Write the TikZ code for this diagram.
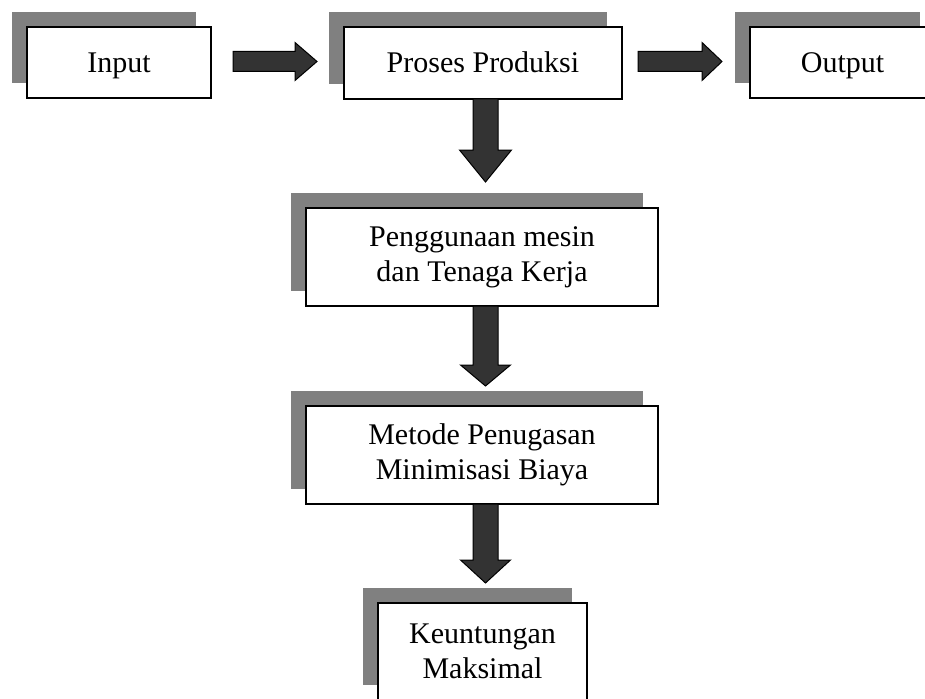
\documentclass[tikz,border=0pt]{standalone}
\usepackage{fontspec}
\setmainfont{Liberation Serif}
\usetikzlibrary{shadows,calc}
\definecolor{shadowgray}{RGB}{128,128,128}
\definecolor{arrowfill}{RGB}{51,51,51}
\tikzset{
  box/.style={draw=black, line width=1.5pt, fill=white, inner sep=0pt, outer sep=0pt,
    align=center, font=\fontsize{30}{35}\selectfont,
    drop shadow={shadow xshift=-15pt, shadow yshift=15pt, opacity=1, fill=shadowgray, draw=none}},
  oneline/.style={text height=23pt, text depth=3pt},
  blockarrow/.style={draw=black, line width=1pt, fill=arrowfill, line join=miter}
}
% horizontal block arrow: start, tip, head length, shaft half, head half
\newcommand{\harr}[5]{%
  \draw[blockarrow] let \p1=(#1), \p2=(#2) in
    (\x1,{\y1+#4}) -- ({\x2-#3},{\y1+#4}) -- ({\x2-#3},{\y1+#5}) -- (\x2,\y1)
    -- ({\x2-#3},{\y1-#5}) -- ({\x2-#3},{\y1-#4}) -- (\x1,{\y1-#4}) -- cycle;}
% downward block arrow
\newcommand{\varr}[5]{%
  \draw[blockarrow] let \p1=(#1), \p2=(#2) in
    ({\x1-#4},\y1) -- ({\x1-#4},{\y2+#3}) -- ({\x1-#5},{\y2+#3}) -- (\x1,\y2)
    -- ({\x1+#5},{\y2+#3}) -- ({\x1+#4},{\y2+#3}) -- ({\x1+#4},\y1) -- cycle;}
\begin{document}
\begin{tikzpicture}[x=1pt,y=-1pt]
\useasboundingbox (0,0) rectangle (925,698);
\clip (0,0) rectangle (925,698);

\node[box, oneline, minimum width=184pt, minimum height=71pt] (in) at (119,62.5) {Input};
\node[box, oneline, minimum width=278pt, minimum height=72pt] (pp) at (483,63) {Proses Produksi};
\node[box, oneline, minimum width=185pt, minimum height=71pt] (out) at (842.5,62.5) {Output};
\node[box, minimum width=352pt, minimum height=98pt] (pg) at (482,257) {Penggunaan mesin\\dan Tenaga Kerja};
\node[box, minimum width=352pt, minimum height=98pt] (mp) at (482,455) {Metode Penugasan\\Minimisasi Biaya};
\node[box, minimum width=209pt, minimum height=97pt] (km) at (482.5,651.5) {Keuntungan\\Maksimal};

% connector end points
\coordinate (h1s) at ($(in.east)+(22,-1)$);
\coordinate (h1t) at ($(pp.west)+(-27,-1.5)$);
\coordinate (h2s) at ($(pp.east)+(16,-1.5)$);
\coordinate (h2t) at ($(out.west)+(-28,-1)$);
\coordinate (v1s) at ($(pp.south)+(2.5,0)$);
\coordinate (v1t) at ($(pg.north)+(3.5,-26)$);
\coordinate (v2s) at ($(pg.south)+(3.5,0)$);
\coordinate (v2t) at ($(mp.north)+(3.5,-20)$);
\coordinate (v3s) at ($(mp.south)+(3.5,0)$);
\coordinate (v3t) at ($(km.north)+(3,-20)$);

\harr{h1s}{h1t}{22pt}{10pt}{19pt}
\harr{h2s}{h2t}{20pt}{10pt}{19pt}
\varr{v1s}{v1t}{32pt}{12.5pt}{26pt}
\varr{v2s}{v2t}{21pt}{12.5pt}{25pt}
\varr{v3s}{v3t}{23pt}{12.5pt}{25pt}
\end{tikzpicture}
\end{document}
